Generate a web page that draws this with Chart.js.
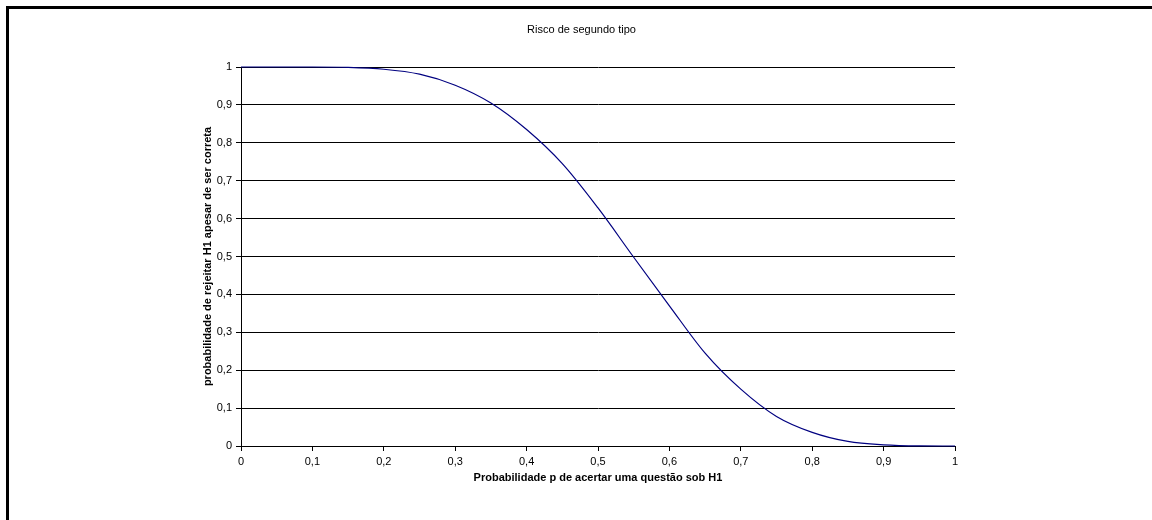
<!DOCTYPE html>
<html lang="pt">
<head>
  <meta charset="UTF-8">
  <title>Risco de segundo tipo</title>
  <script src="https://cdn.jsdelivr.net/npm/chart.js"></script>
  <style>
    html, body { margin: 0; padding: 0; background: #fff; overflow: hidden; }
    #chart { display: block; }
  </style>
</head>
<body>

<canvas id="chart" width="1152" height="520"></canvas>

<script>
// probabilidade p (eixo x) e risco de segundo tipo (eixo y)
const pValues = [0, 0.05, 0.1, 0.15, 0.2, 0.25, 0.3, 0.35, 0.4, 0.45, 0.5,
                 0.55, 0.6, 0.65, 0.7, 0.75, 0.8, 0.85, 0.9, 0.95, 1];
const riskValues = [1, 1, 1, 0.999, 0.994, 0.981, 0.952, 0.905, 0.835, 0.745, 0.628,
                    0.498, 0.37, 0.245, 0.15, 0.078, 0.036, 0.012, 0.003, 0.0003, 0];

const xTickLabels = ['0', '0,1', '0,2', '0,3', '0,4', '0,5', '0,6', '0,7', '0,8', '0,9', '1'];
const yTickLabels = ['0', '0,1', '0,2', '0,3', '0,4', '0,5', '0,6', '0,7', '0,8', '0,9', '1'];

const chartTitle = 'Risco de segundo tipo';
const xTitle = 'Probabilidade p de acertar uma questão sob H1';
const yTitle = 'probabilidade de rejeitar H1 apesar de ser correta';

// moldura do grafico (so as bordas de cima e da esquerda aparecem)
const framePlugin = {
  id: 'frame',
  beforeDraw(chart) {
    const ctx = chart.ctx;
    ctx.save();
    ctx.fillStyle = '#fff';
    ctx.fillRect(0, 0, chart.width, chart.height);
    ctx.fillStyle = '#000';
    ctx.fillRect(6, 6, chart.width, 3);
    ctx.fillRect(6, 6, 3, chart.height);
    ctx.restore();
  }
};

Chart.defaults.font.family = '"Liberation Sans", Arial, sans-serif';
Chart.defaults.font.size = 11;
Chart.defaults.color = '#000';

const points = pValues.map((p, i) => ({x: p, y: riskValues[i]}));

const config = {
  type: 'line',
  data: {
    datasets: [{
      label: 'risco',
      data: points,
      borderColor: '#000080',
      borderWidth: 1.2,
      pointRadius: 0,
      fill: false,
      clip: false,
      cubicInterpolationMode: 'monotone'
    }]
  },
  options: {
    responsive: false,
    animation: false,
    devicePixelRatio: 1,
    layout: {
      padding: {left: 11, right: 0, top: 0, bottom: 0}
    },
    plugins: {
      legend: {display: false},
      tooltip: {enabled: false},
      title: {
        display: true,
        text: chartTitle,
        color: '#000',
        font: {size: 11, weight: 'normal'},
        padding: {top: 23.4, bottom: 30.4}
      }
    },
    scales: {
      x: {
        type: 'linear',
        min: 0,
        max: 1,
        ticks: {
          stepSize: 0.1,
          padding: 4,
          maxRotation: 0,
          callback: (v, i) => xTickLabels[i]
        },
        grid: {
          drawOnChartArea: false,
          color: '#000',
          tickLength: 5
        },
        border: {color: '#000', width: 1},
        title: {
          display: true,
          text: xTitle,
          color: '#000',
          font: {size: 11, weight: 'bold'},
          padding: {top: 0, bottom: 35.4}
        },
        afterFit(scale) { scale.height = 74; }
      },
      y: {
        min: 0,
        max: 1,
        ticks: {
          stepSize: 0.1,
          padding: 4,
          callback: (v, i) => yTickLabels[i]
        },
        grid: {
          color: '#000',
          lineWidth: 1,
          tickLength: 5
        },
        border: {color: '#000', width: 1},
        title: {
          display: true,
          text: yTitle,
          color: '#000',
          font: {size: 11, weight: 'bold'},
          padding: {top: 190.4, bottom: 0}
        },
        afterFit(scale) { scale.width = 230; }
      },
      // eixo vazio a direita, so para reservar o espaco em branco
      yRight: {
        position: 'right',
        min: 0,
        max: 1,
        ticks: {display: false},
        grid: {display: false},
        border: {display: false},
        afterFit(scale) { scale.width = 197; }
      }
    }
  },
  plugins: [framePlugin]
};

const myChart = new Chart(document.getElementById('chart'), config);
</script>
</body>
</html>
